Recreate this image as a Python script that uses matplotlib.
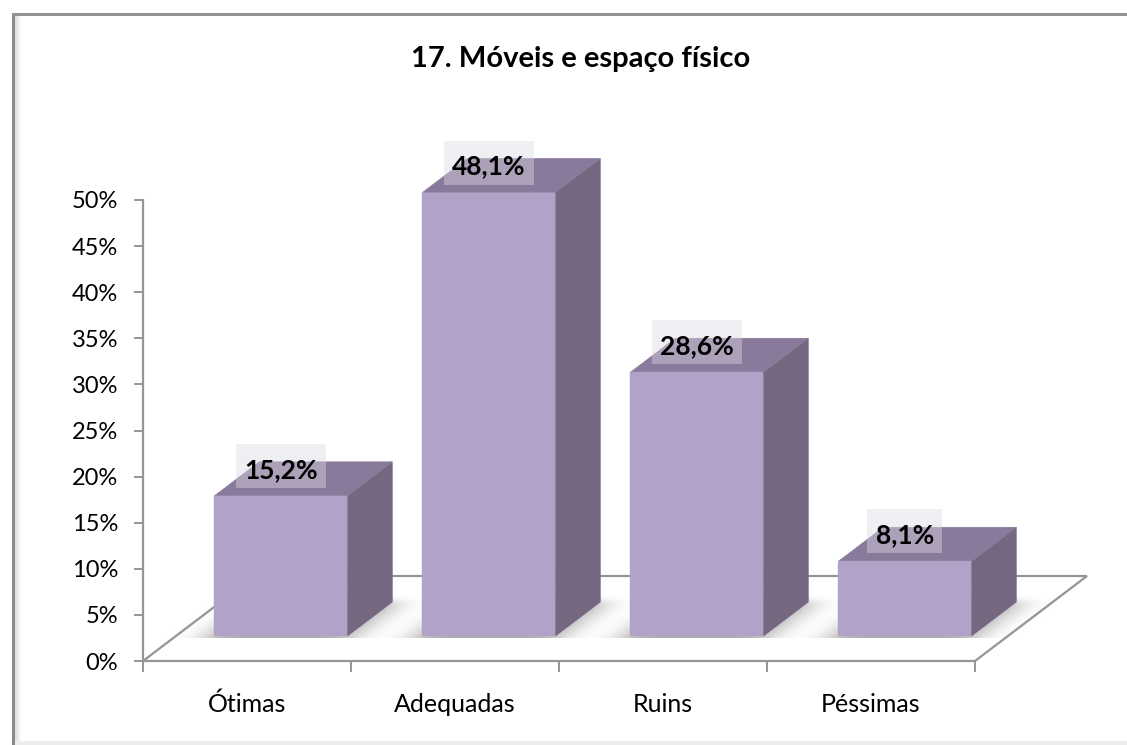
import numpy as np
import matplotlib
matplotlib.use('Agg')
import matplotlib.pyplot as plt
from matplotlib.patches import Polygon, Rectangle

plt.rcParams['font.family'] = ['Lato', 'DejaVu Sans']

categories = ['Ótimas', 'Adequadas', 'Ruins', 'Péssimas']
values = [15.2, 48.1, 28.6, 8.1]
labels = ['15,2%', '48,1%', '28,6%', '8,1%']
yticks = [0, 5, 10, 15, 20, 25, 30, 35, 40, 45, 50]

W, H = 1127, 745
X0, Y0 = 143, 661       # pixel position of the axis origin
CAT_W = 208             # px per category
PCT_H = 9.22            # px per percent
DX, DY = 112 / CAT_W, 85 / PCT_H   # floor depth in data units
BAR_W = 133 / CAT_W
D_FRONT, D_BACK = 25 / 85, 59 / 85

FRONT = '#b2a2c7'
TOP = '#89799a'
SIDE = '#75677f'
LINE = '#959595'


def proj(x, y, d=0.0):
    """oblique projection: d is depth across the floor, 0 front to 1 back."""
    return (x + d * DX, y + d * DY)


def blur(a, sigma, axis):
    r = int(3 * sigma)
    k = np.exp(-0.5 * (np.arange(-r, r + 1) / sigma) ** 2)
    k /= k.sum()
    return np.apply_along_axis(lambda v: np.convolve(v, k, mode='same'), axis, a)


fig = plt.figure(figsize=(W / 100, H / 100), dpi=100)
ax = fig.add_axes([0, 0, 1, 1])
xlim = (-X0 / CAT_W, (W - X0) / CAT_W)
ylim = ((Y0 - H) / PCT_H, Y0 / PCT_H)
ax.axis('off')

# chart frame, with soft inner shadow on the left
px_x, px_y = 1 / CAT_W, 1 / PCT_H
fx0, fx1 = (12 - X0) * px_x, (W - X0) * px_x
fy0, fy1 = ylim[0], (Y0 - 13.5) * px_y
for i in range(6):
    ax.add_patch(Rectangle((fx0 + (3 + i) * px_x, fy0), px_x, fy1 - fy0, fc='#808080',
                           alpha=0.26 * (1 - i / 6), ec='none', zorder=1))
ax.add_patch(Rectangle((fx0, fy0), 3 * px_x, fy1 - fy0, fc='#8a8a8a', ec='none', zorder=1.1))
ax.add_patch(Rectangle((fx0, fy1 - 2.2 * px_y), fx1 - fx0, 2.2 * px_y, fc='#949494', ec='none', zorder=1.1))
ax.add_patch(Rectangle((fx0 + 3 * px_x, fy0), fx1 - fx0, 4.5 * px_y, fc='#ececec', ec='none', zorder=1.1))

# floor
n = len(categories)
floor = [proj(0, 0), proj(n, 0), proj(n, 0, 1), proj(0, 0, 1)]
ax.plot(*zip(*floor, floor[0]), color=LINE, lw=1.6, zorder=2, solid_joinstyle='miter')

# y axis and ticks
ax.plot([0, 0], [0, yticks[-1]], color=LINE, lw=1.6, zorder=2)
for t in yticks:
    ax.plot([-8 * px_x, 0], [t, t], color=LINE, lw=1.4, zorder=2)
    ax.text(-25 * px_x, t - 2 * px_y, f'{t}%', ha='right', va='center', fontsize=17, color='black')
for i in range(n + 1):
    ax.plot([i, i], [0, -10 * px_y], color=LINE, lw=1.4, zorder=2)

ax.text((581 - X0) * px_x, (Y0 - 59) * px_y, '17. Móveis e espaço físico', ha='center', va='center',
        fontsize=21, fontweight='bold', color='black')

# soft floor shadow, blurred footprint of each bar
sh_h, sh_w = Y0 - 570, W
shadow = np.zeros((sh_h, sh_w))     # row 0 is pixel row 570
rows, cols = np.mgrid[570:Y0, 0:W]
for i in range(n):
    left = X0 + (i + 0.5 - BAR_W / 2) * CAT_W + 1 + 25 * 112 / 85
    slant = (Y0 - 25 - rows) * 112 / 85
    mask = (cols >= left + slant - 8) & (cols <= left + 133 + slant + 6) & (rows >= Y0 - 60) & (rows <= Y0 - 10)
    b = blur(blur(mask.astype(float), 15, 1), 3.5, 0)
    shadow = 1 - (1 - shadow) * (1 - b)
shadow[rows > Y0 - 24] = 0
rgba = np.zeros((sh_h, sh_w, 4))
rgba[..., :3] = 0.55
rgba[..., 3] = np.clip(shadow * 0.7, 0, 1)
ax.imshow(rgba, extent=(xlim[0], xlim[1], 0, (Y0 - 570) * px_y), aspect='auto',
          interpolation='bilinear', zorder=2.5)
ax.set_xlim(*xlim)
ax.set_ylim(*ylim)

for i, (cat, val, lab) in enumerate(zip(categories, values, labels)):
    x0 = i + 0.5 - BAR_W / 2 + px_x
    x1 = x0 + BAR_W

    front = [proj(x0, 0, D_FRONT), proj(x1, 0, D_FRONT), proj(x1, val, D_FRONT), proj(x0, val, D_FRONT)]
    side = [proj(x1, 0, D_FRONT), proj(x1, 0, D_BACK), proj(x1, val, D_BACK), proj(x1, val, D_FRONT)]
    top = [proj(x0, val, D_FRONT), proj(x1, val, D_FRONT), proj(x1, val, D_BACK), proj(x0, val, D_BACK)]
    ax.add_patch(Polygon(side, fc=SIDE, ec=SIDE, lw=0.5, zorder=3))
    ax.add_patch(Polygon(top, fc=TOP, ec=TOP, lw=0.5, zorder=3))
    ax.add_patch(Polygon(front, fc=FRONT, ec=FRONT, lw=0.3, zorder=3.1))

    cx, cy = proj(i + 0.5 + px_x, val, D_FRONT)
    box_w = (15 * len(lab) + 15) * px_x
    ax.add_patch(Rectangle((cx - box_w / 2, cy + 8 * px_y), box_w, 44 * px_y, fc=(0.863, 0.847, 0.894, 0.43),
                           ec='none', zorder=4))
    ax.text(cx, cy + 26 * px_y, lab, ha='center', va='center', fontsize=19, fontweight='bold', color='black',
            zorder=5)

    ax.text(i + 0.5, (Y0 - 704) * px_y, cat, ha='center', va='center', fontsize=18, color='black')

fig.savefig('out.png', dpi=100, facecolor='white')
